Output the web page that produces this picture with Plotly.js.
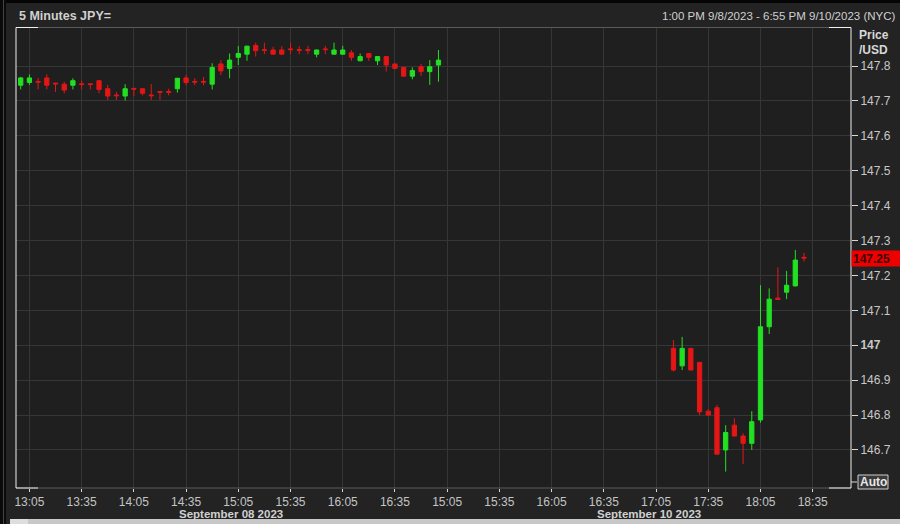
<!DOCTYPE html>
<html>
<head>
<meta charset="utf-8">
<script src="https://cdn.plot.ly/plotly-3.0.1.min.js"></script>
<style>
  html, body { margin: 0; padding: 0; background: #232323; }
  #chart { width: 900px; height: 524px; }
</style>
</head>
<body>
<div id="chart"></div>
<script>
// ---- data (5-minute USD/JPY candles, NYC time) ----
const times = [
  '2023-09-08 13:00','2023-09-08 13:05','2023-09-08 13:10','2023-09-08 13:15','2023-09-08 13:20','2023-09-08 13:25',
  '2023-09-08 13:30','2023-09-08 13:35','2023-09-08 13:40','2023-09-08 13:45','2023-09-08 13:50','2023-09-08 13:55',
  '2023-09-08 14:00','2023-09-08 14:05','2023-09-08 14:10','2023-09-08 14:15','2023-09-08 14:20','2023-09-08 14:25',
  '2023-09-08 14:30','2023-09-08 14:35','2023-09-08 14:40','2023-09-08 14:45','2023-09-08 14:50','2023-09-08 14:55',
  '2023-09-08 15:00','2023-09-08 15:05','2023-09-08 15:10','2023-09-08 15:15','2023-09-08 15:20','2023-09-08 15:25',
  '2023-09-08 15:30','2023-09-08 15:35','2023-09-08 15:40','2023-09-08 15:45','2023-09-08 15:50','2023-09-08 15:55',
  '2023-09-08 16:00','2023-09-08 16:05','2023-09-08 16:10','2023-09-08 16:15','2023-09-08 16:20','2023-09-08 16:25',
  '2023-09-08 16:30','2023-09-08 16:35','2023-09-08 16:40','2023-09-08 16:45','2023-09-08 16:50','2023-09-08 16:55',
  '2023-09-08 17:00',
  '2023-09-10 17:15','2023-09-10 17:20','2023-09-10 17:25','2023-09-10 17:30','2023-09-10 17:35','2023-09-10 17:40',
  '2023-09-10 17:45','2023-09-10 17:50','2023-09-10 17:55','2023-09-10 18:00','2023-09-10 18:05','2023-09-10 18:10',
  '2023-09-10 18:15','2023-09-10 18:20','2023-09-10 18:25','2023-09-10 18:30'
];
const opens = [
  147.745,147.753,147.756,147.766,147.751,147.748,147.745,147.749,147.749,147.758,147.735,147.717,
  147.714,147.736,147.735,147.717,147.727,147.727,147.735,147.766,147.756,147.756,147.748,147.806,
  147.793,147.825,147.834,147.859,147.847,147.846,147.846,147.849,147.847,147.847,147.834,147.849,
  147.834,147.834,147.838,147.815,147.836,147.815,147.827,147.806,147.796,147.771,147.798,147.784,
  147.803,
  146.991,146.941,146.991,146.951,146.811,146.821,146.700,146.771,146.740,146.719,146.786,147.053,
  147.135,147.152,147.170,147.252
];
const highs = [
  147.769,147.776,147.766,147.776,147.752,147.755,147.765,147.758,147.750,147.759,147.746,147.726,
  147.748,147.737,147.736,147.748,147.728,147.735,147.766,147.774,147.765,147.769,147.808,147.817,
  147.836,147.857,147.858,147.867,147.867,147.855,147.857,147.867,147.857,147.858,147.847,147.858,
  147.867,147.858,147.846,147.836,147.837,147.828,147.828,147.807,147.798,147.796,147.806,147.817,
  147.846,
  147.015,147.024,146.992,146.952,146.817,146.829,146.771,146.791,146.748,146.811,147.172,147.163,
  147.223,147.213,147.273,147.265
];
const lows = [
  147.733,147.746,147.733,147.733,147.726,147.722,147.733,147.733,147.733,147.722,147.703,147.703,
  147.701,147.714,147.716,147.703,147.703,147.716,147.724,147.745,147.745,147.745,147.733,147.774,
  147.765,147.803,147.815,147.827,147.834,147.833,147.833,147.834,147.834,147.834,147.825,147.834,
  147.833,147.833,147.815,147.814,147.815,147.803,147.784,147.792,147.770,147.762,147.771,147.746,
  147.755,
  146.925,146.929,146.928,146.800,146.799,146.687,146.638,146.739,146.660,146.700,146.778,147.032,
  147.130,147.132,147.169,147.240
];
const closes = [
  147.766,147.766,147.754,147.745,147.749,147.731,147.758,147.747,147.747,147.733,147.714,147.715,
  147.735,147.734,147.722,147.715,147.725,147.725,147.765,147.753,147.754,147.754,147.796,147.786,
  147.817,147.836,147.857,147.844,147.845,147.834,147.834,147.847,147.845,147.845,147.846,147.847,
  147.846,147.846,147.825,147.827,147.825,147.827,147.803,147.793,147.771,147.787,147.784,147.798,
  147.817,
  146.929,146.991,146.929,146.809,146.800,146.688,146.750,146.740,146.719,146.781,147.053,147.132,
  147.131,147.172,147.244,147.250
];
const xTickVals = [
  '2023-09-08 13:05','2023-09-08 13:35','2023-09-08 14:05','2023-09-08 14:35',
  '2023-09-08 15:05','2023-09-08 15:35','2023-09-08 16:05','2023-09-08 16:35',
  '2023-09-10 15:05','2023-09-10 15:35','2023-09-10 16:05','2023-09-10 16:35',
  '2023-09-10 17:05','2023-09-10 17:35','2023-09-10 18:05','2023-09-10 18:35'
];
const xTickText = [
  '13:05','13:35','14:05','14:35','15:05','15:35','16:05','16:35',
  '15:05','15:35','16:05','16:35','17:05','17:35','18:05','18:35'
];
const yTickVals = [146.7,146.8,146.9,147.0,147.1,147.2,147.3,147.4,147.5,147.6,147.7,147.8];
const yTickText = ['146.7','146.8','146.9','<b>147</b>','147.1','147.2','147.3','147.4','147.5','147.6','147.7','147.8'];
const dayLabels = ['September 08 2023','September 10 2023'];
const headerLeft = '5 Minutes JPY=';
const headerRight = '1:00 PM 9/8/2023 - 6:55 PM 9/10/2023 (NYC)';

// ---- geometry helpers (plot area: x 16..851, y 28..488) ----
const PL = 16, PR = 851, PT = 28, PB = 488;
const px = x => (x - PL) / (PR - PL);
const py = y => (PB - y) / (PB - PT);

const FONT = 'Liberation Sans, Arial, sans-serif';
const GREEN = '#22e022', RED = '#e41616';

const trace = {
  type: 'candlestick',
  x: times, open: opens, high: highs, low: lows, close: closes,
  increasing: { line: { color: GREEN, width: 1 }, fillcolor: GREEN },
  decreasing: { line: { color: RED, width: 1 }, fillcolor: RED },
  whiskerwidth: 0,
  showlegend: false,
  hoverinfo: 'skip'
};

function hline(x0, x1, y, color) {
  return { type: 'line', xref: 'paper', yref: 'paper', x0: px(x0), x1: px(x1), y0: py(y), y1: py(y),
           line: { color: color, width: 1 }, layer: 'above' };
}
function vline(x, y0, y1, color) {
  return { type: 'line', xref: 'paper', yref: 'paper', x0: px(x), x1: px(x), y0: py(y0), y1: py(y1),
           line: { color: color, width: 1 }, layer: 'above' };
}
function rect(x0, y0, x1, y1, fill, lineColor, layer) {
  return { type: 'rect', xref: 'paper', yref: 'paper', x0: px(x0), x1: px(x1), y0: py(y0), y1: py(y1),
           fillcolor: fill, line: { color: lineColor || fill, width: lineColor ? 1 : 0 }, layer: layer || 'above' };
}

const lastClose = closes[closes.length - 1];

const layout = {
  width: 900, height: 524,
  margin: { l: PL, r: 900 - PR, t: PT, b: 524 - PB, pad: 0 },
  paper_bgcolor: '#232323',
  plot_bgcolor: '#1f1f1f',
  font: { family: FONT, size: 12, color: '#c4c4c4' },
  showlegend: false,
  xaxis: {
    type: 'date',
    range: ['2023-09-08 12:57:18', '2023-09-10 18:57'],
    rangebreaks: [{ bounds: ['2023-09-08 17:02', '2023-09-10 15:02'] }],
    rangeslider: { visible: false },
    tickmode: 'array', tickvals: xTickVals, ticktext: xTickText,
    tickangle: 0,
    automargin: false,
    ticks: 'outside', ticklen: 3, tickcolor: '#d8d8d8', tickwidth: 1,
    showgrid: true, gridcolor: '#363636', gridwidth: 1,
    zeroline: false, showline: false,
    tickfont: { family: FONT, size: 12, color: '#c4c4c4' },
    fixedrange: true
  },
  yaxis: {
    side: 'right',
    range: [146.591, 147.909],
    tickmode: 'array', tickvals: yTickVals, ticktext: yTickText,
    ticks: 'outside', ticklen: 6, tickcolor: '#d8d8d8', tickwidth: 1,
    showgrid: true, gridcolor: '#363636', gridwidth: 1,
    zeroline: false, showline: false,
    automargin: false,
    tickfont: { family: FONT, size: 12, color: '#c8c8c8' },
    fixedrange: true
  },
  shapes: [
    rect(0, 0, 900, 3, '#050505'),
    rect(0, 0, 6, 524, '#0a0a0a'),
    vline(3.5, 0, 524, '#444444'),
    hline(PL, PR, 27.5, '#5a5a5a'),
    hline(PL, PR, PB, '#5a5a5a'),
    vline(PL, 27.5, PB, '#f0f0f0'),
    vline(PR, 27.5, PB, '#f0f0f0'),
    hline(PL, 38, 27.5, '#f0f0f0'),
    hline(PL, 38, PB, '#f0f0f0'),
    hline(829, PR, 27.5, '#f0f0f0'),
    hline(829, PR, PB, '#f0f0f0'),
    hline(PR, 857, 482, '#d8d8d8'),
    rect(858, 475, 888, 489, '#3a3a3a', '#cfcfcf'),
    rect(10, 519, 900, 524, '#c8c8c8', null, 'below'),
    rect(10, 519, 28, 524, '#dedede', null, 'below')
  ],
  annotations: [
    { xref: 'paper', yref: 'paper', x: px(17), y: py(16), xanchor: 'left', yanchor: 'middle',
      text: '<b>' + headerLeft + '</b>', showarrow: false, font: { family: FONT, size: 12.5, color: '#d0d0d0' } },
    { xref: 'paper', yref: 'paper', x: px(897), y: py(16), xanchor: 'right', yanchor: 'middle',
      text: headerRight, showarrow: false, font: { family: FONT, size: 11.5, color: '#d0d0d0' } },
    { xref: 'paper', yref: 'paper', x: px(857), y: py(35), xanchor: 'left', yanchor: 'middle',
      text: '<b>Price</b>', showarrow: false, font: { family: FONT, size: 12, color: '#d8d8d8' } },
    { xref: 'paper', yref: 'paper', x: px(857), y: py(50), xanchor: 'left', yanchor: 'middle',
      text: '<b>/USD</b>', showarrow: false, font: { family: FONT, size: 12, color: '#d8d8d8' } },
    { xref: 'paper', yref: 'paper', x: px(873), y: py(482), xanchor: 'center', yanchor: 'middle',
      text: '<b>Auto</b>', showarrow: false, font: { family: FONT, size: 12, color: '#e8e8e8' } },
    { xref: 'paper', yref: 'paper', x: px(231), y: py(513.5), xanchor: 'center', yanchor: 'middle',
      text: '<b>' + dayLabels[0] + '</b>', showarrow: false, borderpad: 0,
      font: { family: FONT, size: 11.5, color: '#d0d0d0' } },
    { xref: 'paper', yref: 'paper', x: px(649), y: py(513.5), xanchor: 'center', yanchor: 'middle',
      text: '<b>' + dayLabels[1] + '</b>', showarrow: false, borderpad: 0,
      font: { family: FONT, size: 11.5, color: '#d0d0d0' } },
    { xref: 'paper', yref: 'y', x: 1, y: lastClose, xanchor: 'left', yanchor: 'middle',
      text: '<b>' + lastClose.toFixed(2) + '</b>', showarrow: false, align: 'left',
      bgcolor: '#ee0000', borderpad: 1, width: 46, height: 13,
      font: { family: FONT, size: 12, color: '#3a0000' } }
  ]
};

Plotly.newPlot('chart', [trace], layout, { displayModeBar: false, staticPlot: true });
</script>
</body>
</html>
